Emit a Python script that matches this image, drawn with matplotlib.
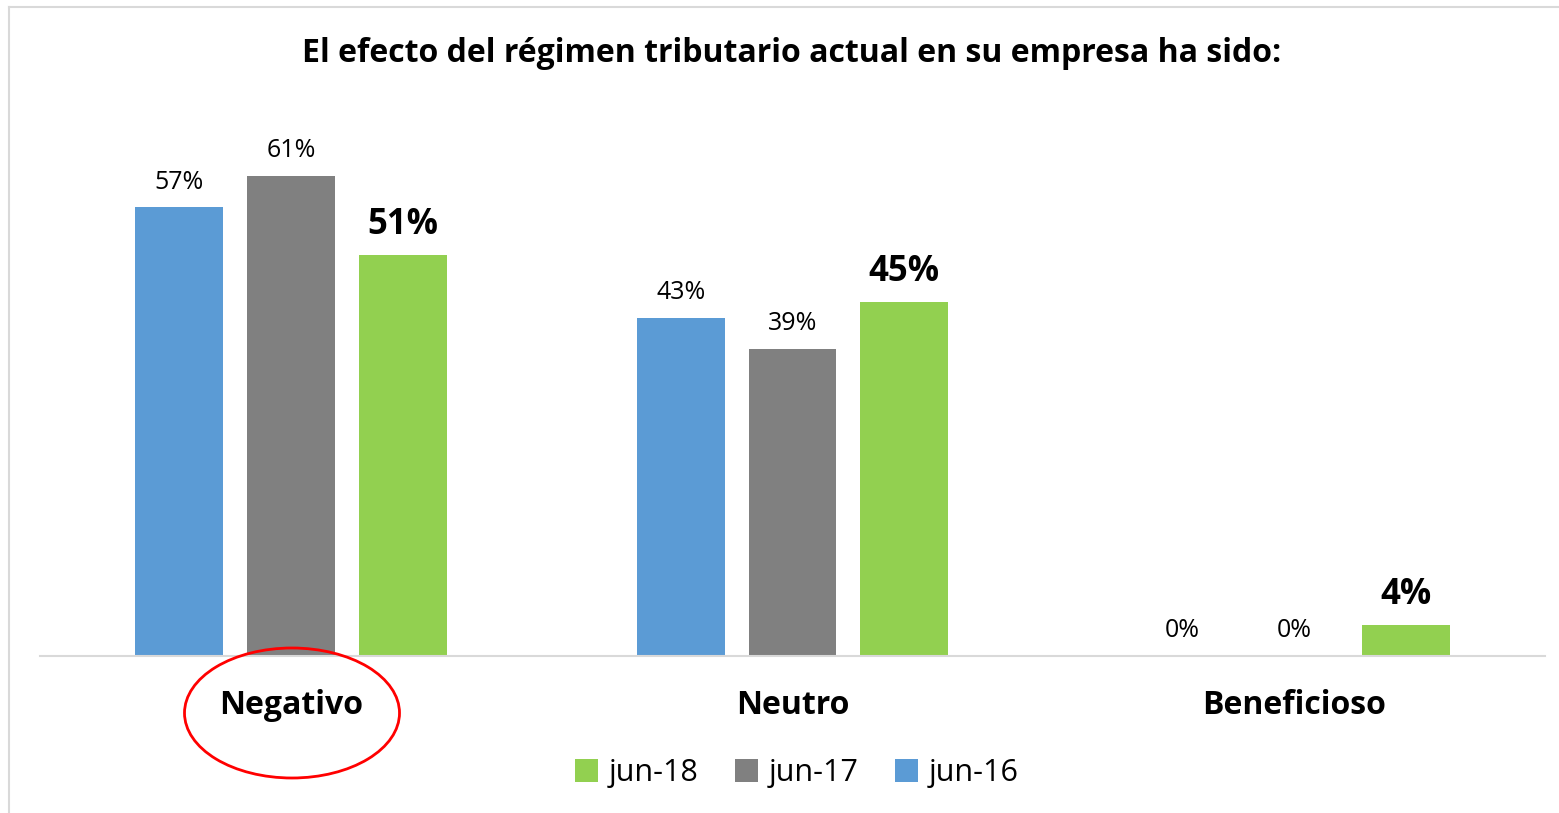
import matplotlib
matplotlib.use("Agg")
import matplotlib.pyplot as plt
from matplotlib.patches import Ellipse
import numpy as np

categories = ["Negativo", "Neutro", "Beneficioso"]
series_names = ["jun-16", "jun-17", "jun-18"]
jun16 = [57, 43, 0]
jun17 = [61, 39, 0]
jun18 = [51, 45, 4]
values = [jun16, jun17, jun18]
colors = ["#5B9BD5", "#808080", "#92D050"]

plt.rcParams['font.family'] = ['Open Sans', 'DejaVu Sans']

W, H = 1559, 813
fig = plt.figure(figsize=(W / 100, H / 100), dpi=100)
ax = fig.add_axes([40 / W, (H - 656) / H, (1545 - 40) / W, (656 - 100) / H])

x = np.arange(len(categories))
step = 0.223
width = 0.175
offsets = [-step, 0, step]
for i, (name, vals, c) in enumerate(zip(series_names, values, colors)):
    bars = ax.bar(x + offsets[i], vals, width=width, color=c, label=name, zorder=2)
    for b, v in zip(bars, vals):
        if i == 2:
            ax.text(b.get_x() + b.get_width() / 2, v + 1.5, f"{v}%", ha="center", va="bottom",
                    fontsize=25, fontweight="bold", color="black")
        else:
            ax.text(b.get_x() + b.get_width() / 2, v + 1.6, f"{v}%", ha="center", va="bottom",
                    fontsize=18, color="black")

ax.set_xlim(-0.5, 2.5)
ax.set_ylim(0, 556 / 7.87)
ax.set_xticks(x)
ax.set_xticklabels(categories, fontsize=23, fontweight="bold")
ax.tick_params(axis="x", length=0, pad=24)
ax.set_yticks([])
for s in ["top", "right", "left"]:
    ax.spines[s].set_visible(False)
ax.spines["bottom"].set_color("#D9D9D9")
ax.spines["bottom"].set_linewidth(1.5)

fig.text(792 / W, 1 - 54 / H, "El efecto del régimen tributario actual en su empresa ha sido:",
         ha="center", va="center", fontsize=23, fontweight="bold")

handles, labels = ax.get_legend_handles_labels()
order = [2, 1, 0]
fig.legend([handles[k] for k in order], [labels[k] for k in order],
           loc="center", bbox_to_anchor=(797 / W, 1 - 773 / H), ncol=3, frameon=False,
           fontsize=22, handlelength=0.75, handleheight=0.75, handletextpad=0.35, columnspacing=1.2)

# red ellipse around Negativo
fig.patches.append(Ellipse((292 / W, 1 - 713 / H), 215 / W, 130 / H, transform=fig.transFigure,
                           fill=False, edgecolor="#FF0000", linewidth=2, figure=fig))

# outer border (top and left)
fig.add_artist(plt.Line2D([9 / W, 1], [1 - 7 / H, 1 - 7 / H], color="#D9D9D9", lw=1.5,
                          transform=fig.transFigure))
fig.add_artist(plt.Line2D([9 / W, 9 / W], [0, 1 - 7 / H], color="#D9D9D9", lw=1.5,
                          transform=fig.transFigure))

fig.savefig("out.png", dpi=100)
